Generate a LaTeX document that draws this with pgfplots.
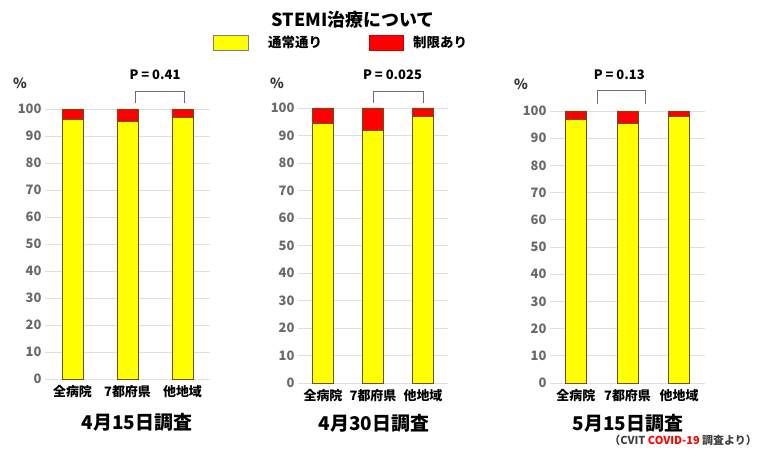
\documentclass[border=0pt]{standalone}
\usepackage{pgfplots}
\pgfplotsset{compat=1.18}
\usepackage{fontspec}
\setmainfont{Noto Sans CJK JP}
\definecolor{baryel}{RGB}{255,255,0}
\definecolor{barred}{RGB}{255,0,0}
\definecolor{baredge}{RGB}{110,80,20}
\definecolor{tickgray}{RGB}{105,105,105}
\definecolor{brk}{RGB}{110,110,110}
\begin{document}
\begin{tikzpicture}
\path[use as bounding box] (0bp,0bp) rectangle (758bp,450bp);
\pgfplotsset{
 panel/.style={
  scale only axis, anchor=south west,
  ymin=0, ymax=100, xmin=-0.5, xmax=2.5,
  ytick={0,10,...,100}, xtick={0,1,2},
  xticklabels={全病院,7都府県,他地域},
  ybar stacked, bar width=21bp,
  axis line style={draw=none}, tick style={draw=none},
  ymajorgrids, major grid style={draw=black!12, line width=0.8pt},
  yticklabel style={font=\fontsize{13}{13}\selectfont\bfseries, text=tickgray},
  xticklabel style={font=\fontsize{13}{13}\selectfont\bfseries, yshift=-3bp},
  /pgf/number format/assume math mode=true,
  clip=false,
 },
 yelbar/.style={fill=baryel, draw=baredge, line width=0.6pt},
 redbar/.style={fill=barred, draw=baredge, line width=0.6pt},
}
% Panel 1
\begin{axis}[panel, at={(45bp,71bp)}, width=165bp, height=270bp]
\addplot[yelbar] coordinates {(0,96.2) (1,95.3) (2,96.8)};
\addplot[redbar] coordinates {(0,3.8) (1,4.7) (2,3.2)};
\draw[brk, line width=0.8pt] (axis cs:1.15,102.2) |- (axis cs:2.03,106.7) -- (axis cs:2.03,102.2);
\node[font=\fontsize{13}{13}\selectfont\bfseries] at (axis cs:1.5,112.6) {P = 0.41};
\end{axis}
% Panel 2
\begin{axis}[panel, at={(298bp,67bp)}, width=150bp, height=275bp]
\addplot[yelbar] coordinates {(0,94.5) (1,91.8) (2,97.0)};
\addplot[redbar] coordinates {(0,5.5) (1,8.2) (2,3.0)};
\draw[brk, line width=0.8pt] (axis cs:1.0,101.8) |- (axis cs:2.0,106.2) -- (axis cs:2.0,101.8);
\node[font=\fontsize{13}{13}\selectfont\bfseries] at (axis cs:1.39,112) {P = 0.025};
\end{axis}
% Panel 3
\begin{axis}[panel, at={(550bp,67bp)}, width=155bp, height=272bp]
\addplot[yelbar] coordinates {(0,96.8) (1,95.3) (2,98.0)};
\addplot[redbar] coordinates {(0,3.2) (1,4.7) (2,2.0)};
\draw[brk, line width=0.8pt] (axis cs:0.41,102.6) |- (axis cs:1.35,107.4) -- (axis cs:1.35,102.6);
\node[font=\fontsize{13}{13}\selectfont\bfseries] at (axis cs:0.84,113.2) {P = 0.13};
\end{axis}
% percent signs
\node[font=\fontsize{14}{14}\selectfont\bfseries, text=black!80] at (20bp,367bp) {\%};
\node[font=\fontsize{14}{14}\selectfont\bfseries, text=black!80] at (277bp,367bp) {\%};
\node[font=\fontsize{14}{14}\selectfont\bfseries, text=black!80] at (521bp,366bp) {\%};
% subtitles
\node[font=\fontsize{19}{19}\selectfont\bfseries] at (137bp,28bp) {4月15日調査};
\node[font=\fontsize{19}{19}\selectfont\bfseries] at (374bp,27bp) {4月30日調査};
\node[font=\fontsize{19}{19}\selectfont\bfseries] at (628bp,27bp) {5月15日調査};
% title and legend
\node[font=\fontsize{18}{18}\selectfont\bfseries] at (353bp,430bp) {STEMI治療について};
\filldraw[fill=baryel, draw=gray, line width=0.8pt] (213bp,400bp) rectangle (248bp,415bp);
\node[anchor=west, inner sep=0pt, font=\fontsize{13.5}{13.5}\selectfont\bfseries] at (268bp,408bp) {通常通り};
\filldraw[fill=barred, draw=barred!80!black, line width=0.5pt] (369bp,400bp) rectangle (403bp,415bp);
\node[anchor=west, inner sep=0pt, font=\fontsize{13.5}{13.5}\selectfont\bfseries] at (413bp,408bp) {制限あり};
% footnote
\node[anchor=east, inner sep=0pt, font=\fontsize{11}{11}\selectfont\bfseries, text=black!75] at (757bp,10bp) {（CVIT \textcolor{red}{COVID-19} 調査より）};
\end{tikzpicture}
\end{document}
